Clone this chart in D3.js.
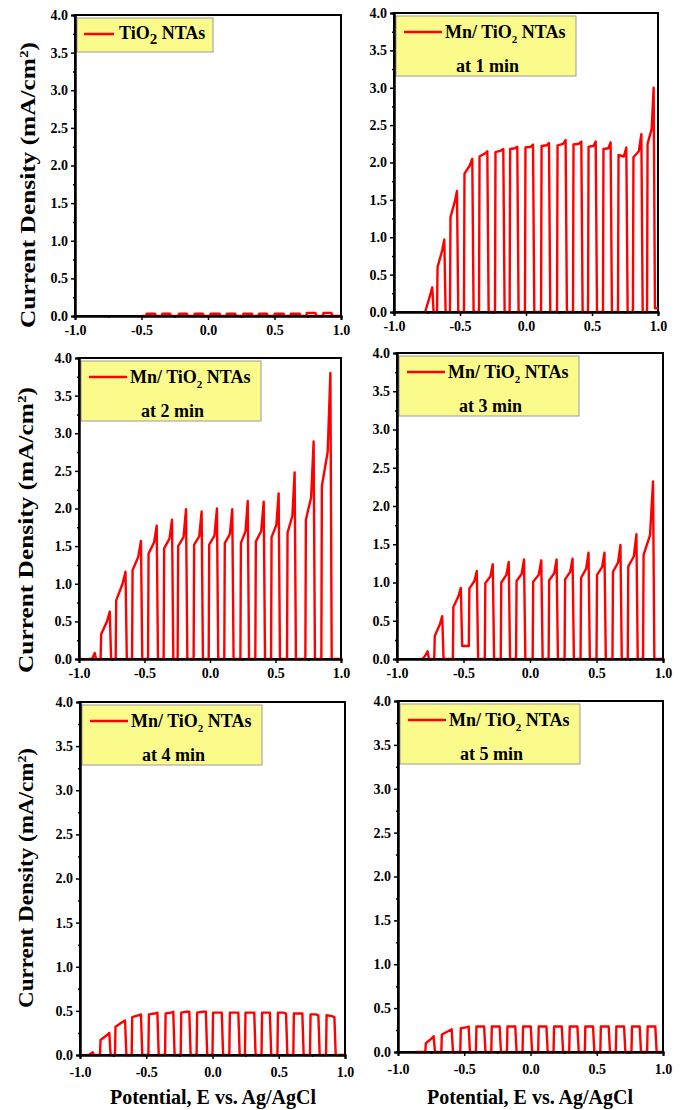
<!DOCTYPE html>
<html lang="en">
<head>
<meta charset="utf-8">
<title>Chopped light LSV</title>
<script src="https://cdn.jsdelivr.net/npm/d3@7"></script>
<style>
body { margin: 0; background: #fff; }
text { font-family: "Liberation Serif", "Times New Roman", serif; font-weight: bold; fill: #000; }
</style>
</head>
<body>
<script>

// one light pulse = [E on, E off, J at switch-on, J late in pulse, J at switch-off, J dark after (opt.)]
var pulsesTiO2 = [
  [-0.465, -0.398, 0.03, 0.03, 0.03], [-0.348, -0.285, 0.03, 0.03, 0.03],
  [-0.222, -0.159, 0.03, 0.03, 0.03], [-0.104, -0.039, 0.03, 0.03, 0.03],
  [0.016, 0.087, 0.03, 0.03, 0.03], [0.137, 0.205, 0.03, 0.03, 0.03],
  [0.262, 0.330, 0.03, 0.03, 0.03], [0.380, 0.443, 0.03, 0.03, 0.03],
  [0.498, 0.568, 0.03, 0.03, 0.03], [0.619, 0.689, 0.03, 0.03, 0.03],
  [0.739, 0.807, 0.04, 0.04, 0.04], [0.864, 0.927, 0.04, 0.04, 0.04]
];
var pulses1min = [
  [-0.768, -0.710, 0.00, 0.22, 0.33], [-0.674, -0.619, 0.60, 0.82, 0.97],
  [-0.576, -0.523, 1.27, 1.48, 1.62], [-0.470, -0.407, 1.85, 1.96, 2.05],
  [-0.356, -0.293, 2.08, 2.12, 2.15], [-0.235, -0.172, 2.14, 2.16, 2.18],
  [-0.124, -0.066, 2.18, 2.19, 2.21], [-0.008, 0.053, 2.20, 2.21, 2.24],
  [0.114, 0.174, 2.22, 2.23, 2.26], [0.235, 0.300, 2.23, 2.25, 2.30],
  [0.356, 0.419, 2.24, 2.25, 2.28], [0.470, 0.528, 2.21, 2.22, 2.28],
  [0.583, 0.641, 2.18, 2.19, 2.27], [0.697, 0.760, 2.10, 2.08, 2.20],
  [0.810, 0.874, 2.07, 2.15, 2.38], [0.917, 0.967, 2.25, 2.45, 3.00, 0.05]
];
var pulses2min = [
  [-0.905, -0.880, 0.00, 0.05, 0.08], [-0.835, -0.765, 0.33, 0.50, 0.63],
  [-0.720, -0.645, 0.78, 1.00, 1.16], [-0.595, -0.527, 1.18, 1.36, 1.57],
  [-0.473, -0.407, 1.40, 1.55, 1.77], [-0.354, -0.290, 1.47, 1.60, 1.85],
  [-0.247, -0.183, 1.50, 1.62, 1.99], [-0.125, -0.064, 1.52, 1.63, 1.96],
  [-0.010, 0.053, 1.52, 1.64, 2.00], [0.109, 0.170, 1.54, 1.66, 1.99],
  [0.232, 0.288, 1.54, 1.70, 2.10], [0.346, 0.410, 1.56, 1.70, 2.09],
  [0.466, 0.524, 1.62, 1.78, 2.20], [0.588, 0.646, 1.68, 1.90, 2.48],
  [0.728, 0.791, 1.85, 2.15, 2.89], [0.850, 0.919, 2.30, 2.75, 3.80]
];
var pulses3min = [
  [-0.810, -0.770, 0.00, 0.06, 0.10], [-0.720, -0.660, 0.30, 0.45, 0.56],
  [-0.580, -0.520, 0.68, 0.82, 0.93, 0.17], [-0.460, -0.400, 0.92, 1.02, 1.15],
  [-0.340, -0.280, 0.99, 1.08, 1.24], [-0.220, -0.160, 1.00, 1.10, 1.27],
  [-0.105, -0.045, 1.02, 1.11, 1.30], [0.020, 0.085, 1.01, 1.10, 1.29],
  [0.140, 0.200, 1.03, 1.12, 1.30], [0.260, 0.320, 1.04, 1.14, 1.31],
  [0.380, 0.440, 1.06, 1.18, 1.39], [0.500, 0.560, 1.10, 1.20, 1.39],
  [0.620, 0.680, 1.14, 1.26, 1.49], [0.735, 0.800, 1.21, 1.34, 1.63],
  [0.850, 0.925, 1.36, 1.62, 2.32]
];
var pulses4min = [
  [-0.937, -0.904, 0.00, 0.02, 0.03], [-0.849, -0.779, 0.17, 0.22, 0.25],
  [-0.736, -0.660, 0.32, 0.37, 0.39], [-0.610, -0.540, 0.43, 0.45, 0.46],
  [-0.484, -0.416, 0.46, 0.47, 0.48], [-0.358, -0.296, 0.47, 0.48, 0.49],
  [-0.240, -0.175, 0.48, 0.49, 0.49], [-0.120, -0.050, 0.48, 0.49, 0.49],
  [0.000, 0.070, 0.48, 0.48, 0.48], [0.127, 0.195, 0.48, 0.48, 0.48],
  [0.245, 0.315, 0.48, 0.48, 0.48], [0.370, 0.433, 0.48, 0.48, 0.48],
  [0.490, 0.555, 0.48, 0.48, 0.47], [0.610, 0.678, 0.47, 0.47, 0.47],
  [0.736, 0.799, 0.46, 0.46, 0.45], [0.857, 0.920, 0.45, 0.44, 0.43]
];
var pulses5min = [
  [-0.794, -0.731, 0.10, 0.15, 0.18], [-0.673, -0.595, 0.20, 0.24, 0.26],
  [-0.530, -0.467, 0.27, 0.28, 0.29], [-0.412, -0.350, 0.29, 0.29, 0.29],
  [-0.296, -0.233, 0.29, 0.29, 0.29], [-0.178, -0.115, 0.29, 0.29, 0.29],
  [-0.060, 0.002, 0.29, 0.29, 0.29], [0.058, 0.120, 0.29, 0.29, 0.29],
  [0.174, 0.236, 0.29, 0.29, 0.29], [0.292, 0.354, 0.29, 0.29, 0.29],
  [0.410, 0.472, 0.29, 0.29, 0.29], [0.527, 0.590, 0.29, 0.29, 0.29],
  [0.644, 0.706, 0.29, 0.29, 0.29], [0.762, 0.824, 0.29, 0.29, 0.29],
  [0.880, 0.942, 0.29, 0.29, 0.29]
];

var traceStart = [-0.50, -0.768, -0.93, -0.825, -0.95, -0.87];
var legendNames = ["TiO", "Mn/ TiO", "Mn/ TiO", "Mn/ TiO", "Mn/ TiO", "Mn/ TiO"];
var legendTimes = ["", "at 1 min", "at 2 min", "at 3 min", "at 4 min", "at 5 min"];
var xTicks = [-1.0, -0.5, 0.0, 0.5, 1.0];
var yTicks = [0.0, 0.5, 1.0, 1.5, 2.0, 2.5, 3.0, 3.5, 4.0];
var xMinor = [-0.75, -0.25, 0.25, 0.75];
var yMinor = [0.25, 0.75, 1.25, 1.75, 2.25, 2.75, 3.25, 3.75];

var allPulses = [pulsesTiO2, pulses1min, pulses2min, pulses3min, pulses4min, pulses5min];

// plot boxes, pixel positions in the page
var boxes = [
  {l: 75, r: 341, t: 15, b: 316, ylab: {x: 35, y: 185, len: 286}},
  {l: 394, r: 658, t: 13, b: 312},
  {l: 79, r: 341, t: 358, b: 659, ylab: {x: 33, y: 530, len: 286}},
  {l: 397, r: 663, t: 353, b: 659},
  {l: 80, r: 345, t: 702, b: 1055, ylab: {x: 33, y: 878, len: 260}, xlab: 213},
  {l: 398, r: 663, t: 701, b: 1052, xlab: 530}
];

var width = 681;
var height = 1110;

var svg = d3.select("body").append("svg")
    .attr("width", width)
    .attr("height", height);

function tracePoints(start, pulses) {
    var pts = [[start, 0]];
    var dark = 0;
    pulses.forEach(function(p) {
        pts.push([p[0], dark]);
        pts.push([p[0] + 0.004, p[2]]);
        pts.push([p[0] + 0.7 * (p[1] - p[0]), p[3]]);
        pts.push([p[1], p[4]]);
        dark = p.length > 5 ? p[5] : 0;
        pts.push([p[1] + 0.01, dark]);
    });
    pts.push([1.0, dark]);
    return pts;
}

var fmt = function(d) { return d.toFixed(1); };

boxes.forEach(function(bx, i) {
    var x = d3.scaleLinear().domain([-1, 1]).range([bx.l, bx.r]);
    var y = d3.scaleLinear().domain([0, 4]).range([bx.b, bx.t]);
    var g = svg.append("g");
    var bottomPanel = i >= 4;

    // frame
    g.append("rect")
        .attr("x", bx.l).attr("y", bx.t)
        .attr("width", bx.r - bx.l).attr("height", bx.b - bx.t)
        .attr("fill", "none").attr("stroke", "#000").attr("stroke-width", 2);

    // legend box
    var lx = bx.l + 2, ly = bx.t + 3;
    var one = legendTimes[i] === "";
    g.append("rect")
        .attr("x", lx).attr("y", ly)
        .attr("width", one ? 136 : 180).attr("height", one ? 34 : 60)
        .attr("fill", "#fbfb8c").attr("stroke", "#9a9a9a").attr("stroke-width", 1);
    g.append("line")
        .attr("x1", lx + (one ? 7 : 8)).attr("x2", lx + (one ? 37 : 46))
        .attr("y1", ly + 16).attr("y2", ly + 16)
        .attr("stroke", "red").attr("stroke-width", 2.5);
    var lt = g.append("text")
        .attr("x", lx + (one ? 42 : 49)).attr("y", ly + (one ? 21 : 22))
        .style("font-size", "18px");
    lt.append("tspan").text(legendNames[i]);
    lt.append("tspan").attr("dy", 5).style("font-size", one ? "15px" : "11px").text("2");
    lt.append("tspan").attr("dy", -5).text(" NTAs");
    if (!one) {
        g.append("text")
            .attr("x", lx + 60).attr("y", ly + 56)
            .style("font-size", "18px")
            .text(legendTimes[i]);
    }

    // trace
    var line = d3.line()
        .x(function(d) { return x(d[0]); })
        .y(function(d) { return y(d[1]); });
    g.append("path")
        .datum(tracePoints(traceStart[i], allPulses[i]))
        .attr("d", line)
        .attr("fill", "none")
        .attr("stroke", "#ff0000")
        .attr("stroke-width", 2.4)
        .attr("stroke-linejoin", "round");

    // axes
    g.append("g")
        .attr("transform", "translate(0," + bx.b + ")")
        .call(d3.axisBottom(x).tickValues(xTicks).tickFormat(fmt)
            .tickSize(4).tickPadding(bottomPanel ? 8 : 5));
    g.append("g")
        .attr("transform", "translate(0," + bx.b + ")")
        .call(d3.axisBottom(x).tickValues(xMinor).tickFormat("").tickSize(2));
    g.append("g")
        .attr("transform", "translate(" + bx.l + ",0)")
        .call(d3.axisLeft(y).tickValues(yTicks).tickFormat(fmt)
            .tickSize(4).tickPadding(3));
    g.append("g")
        .attr("transform", "translate(" + bx.l + ",0)")
        .call(d3.axisLeft(y).tickValues(yMinor).tickFormat("").tickSize(2));

    g.selectAll(".domain").attr("stroke-width", 2);
    g.selectAll(".tick line").attr("stroke-width", 1.5);
    g.selectAll(".tick text").style("font-size", "14px")
        .style("font-family", "'Liberation Serif', serif").style("font-weight", "bold");

    if (bx.ylab) {
        var yl = svg.append("text")
            .attr("transform", "translate(" + bx.ylab.x + "," + bx.ylab.y + ") rotate(-90)")
            .attr("text-anchor", "middle")
            .attr("textLength", bx.ylab.len)
            .attr("lengthAdjust", "spacingAndGlyphs")
            .style("font-size", "20px");
        yl.append("tspan").text("Current Density (mA/cm");
        yl.append("tspan").attr("dy", -7).style("font-size", "12px").text("2");
        yl.append("tspan").attr("dy", 7).text(")");
    }
    if (bx.xlab) {
        svg.append("text")
            .attr("x", bx.xlab).attr("y", 1104)
            .attr("text-anchor", "middle")
            .style("font-size", "20px")
            .text("Potential, E vs. Ag/AgCl");
    }
});

</script>
</body>
</html>
